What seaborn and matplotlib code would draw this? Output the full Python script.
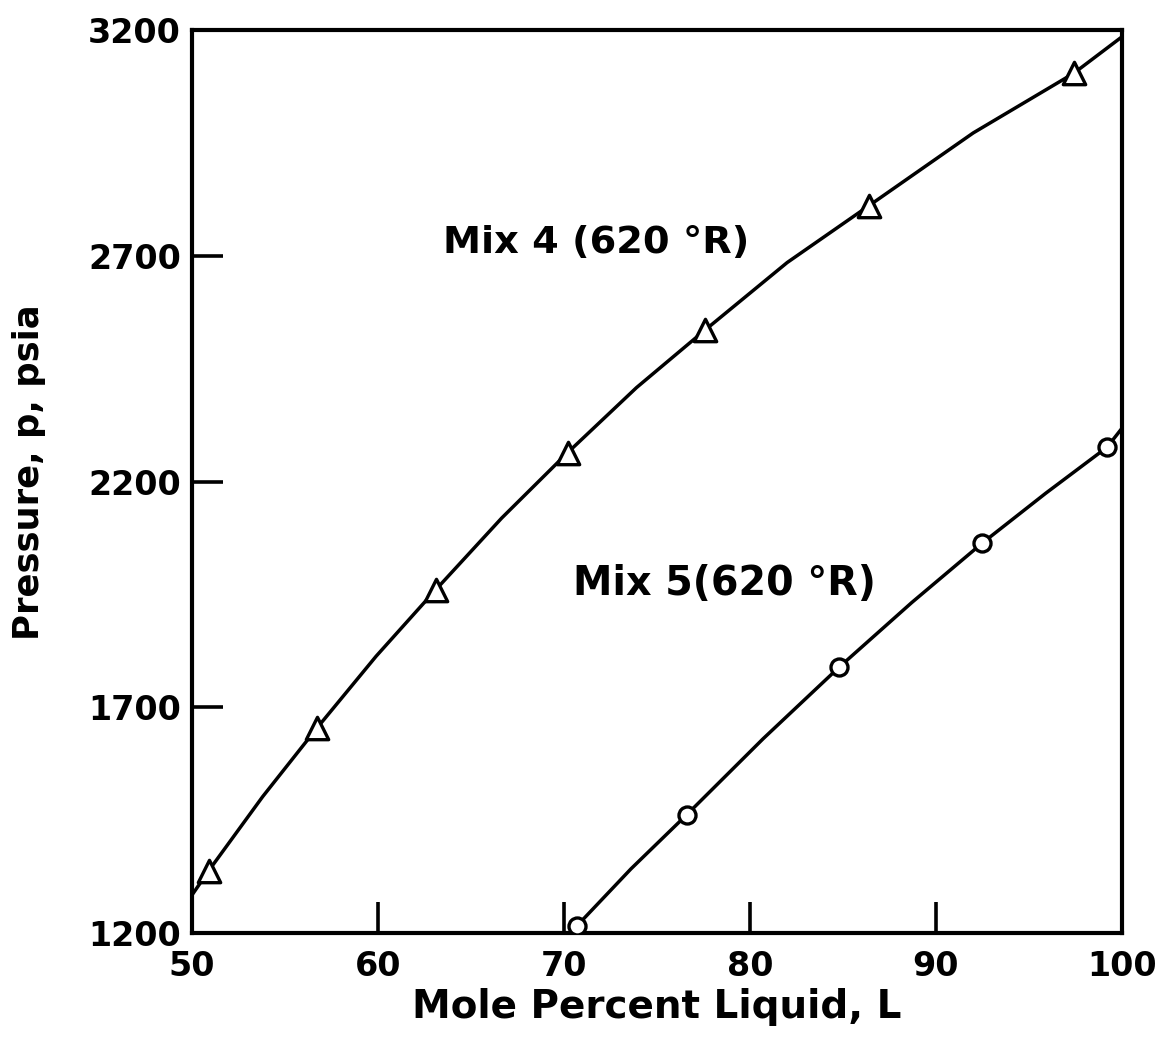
import matplotlib
matplotlib.use("Agg")
import matplotlib.pyplot as plt
import seaborn as sns
import pandas as pd

# Mix 4 measured points (triangles)
mix4_liquid = [50.9, 56.7, 63.1, 70.2, 77.6, 86.4, 97.4]
mix4_pressure = [1338, 1653, 1960, 2264, 2536, 2811, 3104]

# Mix 4 faired curve
mix4_curve_liquid = [50.0, 50.9, 53.8, 56.7, 59.9, 63.1, 66.65, 70.2, 73.9, 77.6,
                     82.0, 86.4, 92.0, 97.4, 100.0]
mix4_curve_pressure = [1284, 1338, 1502, 1653, 1813, 1960, 2119, 2264, 2408, 2536,
                       2685, 2811, 2972, 3104, 3185]

# Mix 5 measured points (circles)
mix5_liquid = [70.7, 76.6, 84.8, 92.5, 99.2]
mix5_pressure = [1216, 1462, 1789, 2064, 2276]

# Mix 5 faired curve
mix5_curve_liquid = [70.3, 70.7, 73.6, 76.6, 80.7, 84.8, 88.7, 92.5, 95.9, 99.2, 100.0]
mix5_curve_pressure = [1200, 1216, 1342, 1462, 1630, 1789, 1932, 2064, 2174, 2276, 2318]

x_ticks = [50, 60, 70, 80, 90, 100]
y_ticks = [1200, 1700, 2200, 2700, 3200]

sns.set_style("white")
plt.rcParams["font.family"] = ["DejaVu Sans"]
plt.rcParams["font.weight"] = "bold"
plt.rcParams["text.color"] = "black"
plt.rcParams["axes.labelcolor"] = "black"
plt.rcParams["xtick.color"] = "black"
plt.rcParams["ytick.color"] = "black"

fig = plt.figure(figsize=(11.55, 10.39), dpi=100)
ax = fig.add_axes([0.1662, 0.102, 0.8052, 0.8691])

c4 = pd.DataFrame({"L": mix4_curve_liquid, "p": mix4_curve_pressure})
c5 = pd.DataFrame({"L": mix5_curve_liquid, "p": mix5_curve_pressure})
p4 = pd.DataFrame({"L": mix4_liquid, "p": mix4_pressure})
p5 = pd.DataFrame({"L": mix5_liquid, "p": mix5_pressure})

sns.lineplot(data=c4, x="L", y="p", ax=ax, color="black", lw=2.5, sort=False, zorder=2)
sns.lineplot(data=c5, x="L", y="p", ax=ax, color="black", lw=2.5, sort=False, zorder=2)
sns.scatterplot(data=p4, x="L", y="p", ax=ax, marker="^", s=260, facecolor="white",
                edgecolor="black", linewidth=2.4, zorder=3)
sns.scatterplot(data=p5, x="L", y="p", ax=ax, marker="o", s=150, facecolor="white",
                edgecolor="black", linewidth=2.4, zorder=3)

ax.set_xlim(50, 100)
ax.set_ylim(1200, 3200)
ax.set_xticks(x_ticks)
ax.set_yticks(y_ticks)
ax.tick_params(axis="both", which="major", direction="in", length=22, width=2.6,
               color="black", labelcolor="black", labelsize=24, pad=8,
               bottom=True, left=True, top=False, right=False)
ax.tick_params(axis="x", pad=12)
for lab in ax.get_xticklabels() + ax.get_yticklabels():
    lab.set_fontweight("bold")

for sp in ax.spines.values():
    sp.set_visible(True)
    sp.set_color("black")
    sp.set_linewidth(3)

ax.set_xlabel("Mole Percent Liquid, L", fontsize=28, fontweight="bold",
              color="black", labelpad=4)
ax.set_ylabel("Pressure, p, psia", fontsize=25.5, fontweight="bold", color="black")
ax.yaxis.set_label_coords(-0.157, 0.51)

ax.text(63.5, 2729, "Mix 4 (620 °R)", fontsize=27.5, va="center", ha="left", color="black")
ax.text(70.5, 1973, "Mix 5(620 °R)", fontsize=28.5, va="center", ha="left", color="black")

fig.savefig("out.png", dpi=100, facecolor="white")
